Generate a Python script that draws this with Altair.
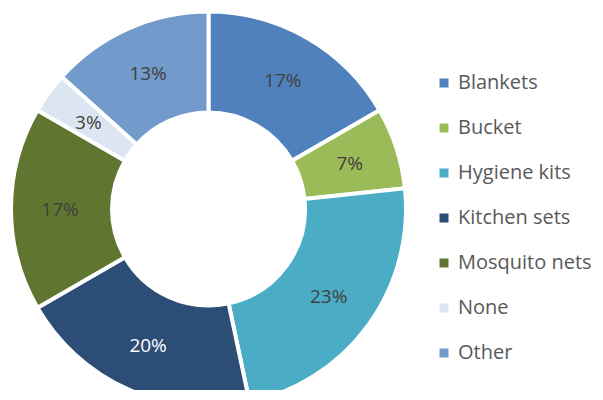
import altair as alt
import pandas as pd

categories = ["Blankets", "Bucket", "Hygiene kits", "Kitchen sets", "Mosquito nets", "None", "Other"]
counts = [5, 2, 7, 6, 5, 1, 4]
labels = ["17%", "7%", "23%", "20%", "17%", "3%", "13%"]
colors = ["#4F81BD", "#9BBB59", "#4BACC6", "#2C4D75", "#5F7530", "#DCE6F2", "#729ACA"]
label_colors = ["#404040", "#404040", "#404040", "#FFFFFF", "#404040", "#404040", "#404040"]

df = pd.DataFrame({
    "category": categories,
    "count": counts,
    "label": labels,
    "order": list(range(len(categories))),
    "lcolor": label_colors,
})

CX, CY = 200.5, 201
FONT = "Open Sans"

base = alt.Chart(df).encode(
    theta=alt.Theta("count:Q", stack=True),
    order=alt.Order("order:Q", sort="ascending"),
)

arcs = base.mark_arc(
    outerRadius=197.5, innerRadius=96.5, stroke="white", strokeWidth=4
).encode(
    x=alt.value(CX), y=alt.value(CY),
    color=alt.Color(
        "category:N",
        scale=alt.Scale(domain=categories, range=colors),
        legend=alt.Legend(
            title=None, orient="none", legendX=426, legendY=65,
            symbolType="square", symbolSize=81, symbolStrokeWidth=0,
            labelFont=FONT, labelFontSize=20, labelColor="#595959",
            rowPadding=25, labelOffset=4, labelLimit=300,
        ),
    ),
)

texts = base.mark_text(
    radius=148.5, dy=1, font=FONT, fontSize=19
).encode(
    x=alt.value(CX), y=alt.value(CY),
    text="label:N",
    color=alt.Color("lcolor:N", scale=None),
)

chart = alt.layer(arcs, texts).properties(
    width=587, height=382, padding=0, autosize=alt.AutoSizeParams(type="none")
).configure_view(stroke=None)

chart.save("out.html", embed_options={"renderer": "svg", "actions": False})
